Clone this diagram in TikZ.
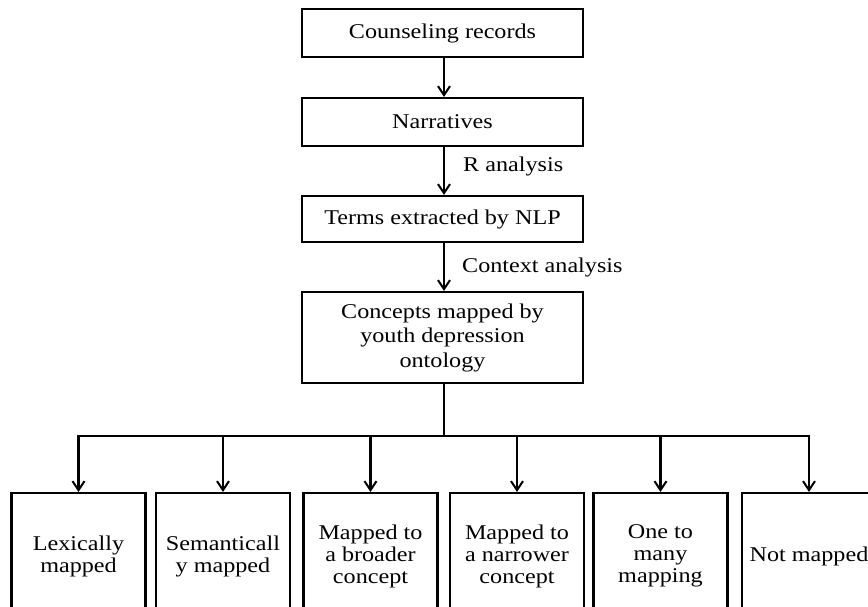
\documentclass[tikz,border=0pt]{standalone}
\usepackage{fontspec}
\setmainfont[FakeStretch=1.15]{Liberation Serif}
\usetikzlibrary{arrows.meta}
\begin{document}
\begin{tikzpicture}[x=1pt,y=-1pt,
  box/.style={draw=black, line width=2.2pt, rectangle, inner sep=0pt, align=center,
    font=\fontsize{21}{24.5}\selectfont},
  mainbox/.style={box, minimum width=281pt},
  leaf/.style={box, minimum width=134pt, minimum height=126pt, font=\fontsize{21}{22}\selectfont},
  conn/.style={line width=2.2pt},
  arr/.style={conn, -{Straight Barb[length=9pt,width=12pt,line width=2pt]}},
  lab/.style={anchor=west, inner sep=0pt, font=\fontsize{21}{23}\selectfont}]
\useasboundingbox (0,0) rectangle (868,607);
\clip (0,0) rectangle (868,607);
\node[mainbox, minimum height=48pt] (rec) at (442.5,33) {Counseling records};
\node[mainbox, minimum height=48pt] (nar) at (442.5,122) {Narratives};
\node[mainbox, minimum height=46pt] (ter) at (442.5,219) {Terms extracted by NLP};
\node[mainbox, minimum height=91pt] (con) at (442.5,337.5) {Concepts mapped by\\youth depression\\ontology};
\node[leaf] (b1) at (78.5,556) {Lexically\\mapped};
\node[leaf] (b2) at (223,556) {Semanticall\\y mapped};
\node[leaf] (b3) at (370.5,556) {Mapped to\\a broader\\concept};
\node[leaf] (b4) at (517,556) {Mapped to\\a narrower\\concept};
\node[leaf] (b5) at (660.5,556) {One to\\many\\mapping};
\node[leaf] (b6) at (809,556) {Not mapped};
\draw[arr] ([xshift=1.5pt]rec.south) -- ([xshift=1.5pt]nar.north);
\draw[arr] ([xshift=1.5pt]nar.south) -- ([xshift=1.5pt]ter.north);
\draw[arr] ([xshift=1.5pt]ter.south) -- ([xshift=1.5pt]con.north);
\node[lab] (la) at (463,166) {R analysis};
\node[lab] (lb) at (462,267) {Context analysis};
\coordinate (bar) at (0,436);
\draw[conn] ([xshift=1.5pt]con.south) -- ([xshift=1.5pt]con.south |- bar);
\draw[conn, line cap=rect] (b1.north |- bar) -- (b6.north |- bar);
\foreach \b in {b1,b2,b3,b4,b5,b6} {
  \draw[arr] (\b.north |- bar) -- (\b.north);
}
\end{tikzpicture}
\end{document}
